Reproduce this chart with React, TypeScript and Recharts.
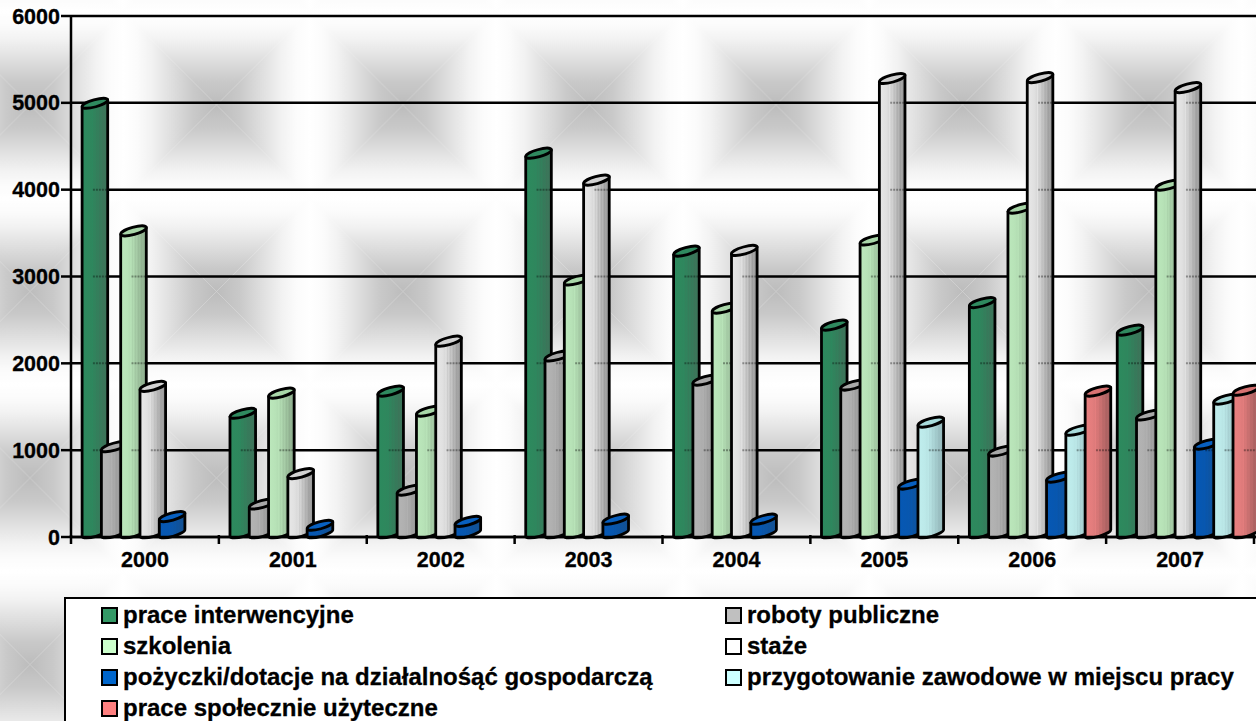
import { BarChart, Bar, XAxis, YAxis, CartesianGrid, Legend } from 'recharts';

const years = ['2000', '2001', '2002', '2003', '2004', '2005', '2006', '2007'];
const yTicks = [0, 1000, 2000, 3000, 4000, 5000, 6000];

const seriesNames = [
	'prace interwencyjne',
	'roboty publiczne',
	'szkolenia',
	'staże',
	'pożyczki/dotacje na działalnośąć gospodarczą',
	'przygotowanie zawodowe w miejscu pracy',
	'prace społecznie użyteczne',
];

const praceInterwencyjne = [4995, 1425, 1680, 4420, 3292, 2440, 2700, 2382];
const robotyPubliczne = [1040, 380, 540, 2085, 1807, 1750, 990, 1405];
const szkolenia = [3525, 1657, 1450, 2960, 2636, 3420, 3787, 4052];
const staze = [1735, 730, 2255, 4110, 3300, 5280, 5290, 5175];
const pozyczki = [235, 135, 180, 205, 205, 610, 690, 1070];
const przygotowanie = [null, null, null, null, null, 1323, 1230, 1588];
const praceSpoleczne = [null, null, null, null, null, null, 1680, 1690];

const seriesValues = [praceInterwencyjne, robotyPubliczne, szkolenia, staze, pozyczki, przygotowanie, praceSpoleczne];

const chartData = years.map((year, i) => {
	const row: Record<string, string | number | null> = { year };
	seriesNames.forEach((name, s) => {
		row[name] = seriesValues[s][i];
	});
	return row;
});

const legendColors = ['#339966', '#c0c0c0', '#ccffcc', '#ffffff', '#0066cc', '#ccffff', '#ff8080'];
const bodyLeft = ['#2c8a5e', '#b4b4b4', '#bce8bc', '#e8e8e8', '#0658b4', '#c0eeee', '#ea8080'];
const bodyRight = ['#3f6f58', '#868686', '#86a486', '#8e8e8e', '#144f8e', '#8eb0b4', '#9c5a5a'];
const topColors = ['#2f8a5f', '#a8a8a8', '#a8d6a8', '#d2d2d2', '#0860c0', '#a8dcdc', '#d87272'];

const font = '"Liberation Sans", Arial, sans-serif';
const stripeOffsets = [0, 0.28, 0.36, 0.4, 0.46, 0.5, 0.58, 0.62, 0.7, 0.74, 0.82, 0.86, 1];

function mix(a: string, b: string, t: number) {
	const ch = (h: string, n: number) => parseInt(h.slice(n, n + 2), 16);
	const out = [1, 3, 5].map((n) => Math.round(ch(a, n) + (ch(b, n) - ch(a, n)) * t));
	return `rgb(${out.join(',')})`;
}

function Cylinder(props: any) {
	const { x, y, height, series, value } = props;
	if (value == null || !height) return null;
	const left = x + 4.6;
	const halfW = 12.8;
	const tilt = 3.6;
	const rx = 13.2;
	const ry = 3.6;
	const cx = left + halfW;
	const base = y + height;
	const bottomY = base - tilt - 0.5;
	const body = `M${cx - halfW},${y + tilt} L${cx - halfW},${bottomY + tilt} A${rx},${ry} -15.7 0 0 ${cx + halfW},${bottomY - tilt} L${cx + halfW},${y - tilt} Z`;
	const perThousand = (height / value) * 1000;
	const marks = yTicks.filter((t) => t > 0 && t < value - 60);
	return (
		<g>
			<path d={body} fill={`url(#cyl${series})`} stroke="#000" strokeWidth={2.8} strokeLinejoin="round" />
			{marks.map((t) => (
				<line
					key={t}
					x1={cx - 2}
					x2={cx + halfW - 1}
					y1={base - (t / 1000) * perThousand}
					y2={base - (t / 1000) * perThousand}
					stroke="#000"
					strokeOpacity={0.35}
					strokeWidth={2}
					strokeDasharray="2 1"
				/>
			))}
			<ellipse
				cx={cx}
				cy={y}
				rx={rx}
				ry={ry}
				transform={`rotate(-15.7 ${cx} ${y})`}
				fill={topColors[series]}
				stroke="#000"
				strokeWidth={2.8}
			/>
		</g>
	);
}

function YearTick(props: any) {
	const { x, y, payload, index } = props;
	const half = payload?.offset ?? 73.94;
	const axisY = y - 2;
	return (
		<g>
			<line x1={x - half} x2={x - half} y1={axisY} y2={axisY + 9} stroke="#000" strokeWidth={2.5} />
			{index === years.length - 1 && (
				<line x1={x + half} x2={x + half} y1={axisY} y2={axisY + 9} stroke="#000" strokeWidth={2.5} />
			)}
			<text
				x={x}
				y={axisY + 32}
				textAnchor="middle"
				fontFamily={font}
				fontWeight="bold"
				fontSize={21.5}
				fill="#000"
				stroke="#000"
				strokeWidth={0.3}
			>
				{payload.value}
			</text>
		</g>
	);
}

function LegendBox({ payload }: any) {
	return (
		<div
			style={{
				position: 'relative',
				width: 1300,
				height: 130,
				boxSizing: 'border-box',
				background: '#fff',
				border: '2.5px solid #000',
				fontFamily: font,
				fontWeight: 'bold',
				fontSize: 24,
				color: '#000',
				WebkitTextStroke: '0.3px #000',
			}}
		>
			{(payload ?? []).map((item: any, i: number) => (
				<div
					key={item.value}
					style={{
						position: 'absolute',
						left: i % 2 === 0 ? 35 : 659,
						top: 6 + Math.floor(i / 2) * 31,
						height: 20,
						display: 'flex',
						alignItems: 'center',
						whiteSpace: 'nowrap',
					}}
				>
					<span
						style={{
							width: 17,
							height: 17,
							boxSizing: 'border-box',
							border: '2.5px solid #000',
							background: item.color,
							marginRight: 5,
							flex: 'none',
						}}
					/>
					{item.value}
				</div>
			))}
		</div>
	);
}

function Backdrop() {
	const tile = 186.5;
	const c = tile / 2;
	const stops = [
		[0, '#bcbcbc'],
		[0.25, '#c9c9c9'],
		[0.5, '#e0e0e0'],
		[0.7, '#f2f2f2'],
		[0.85, '#fbfbfb'],
		[1, '#ffffff'],
	];
	const grad = (id: string, x2: number, y2: number) => (
		<linearGradient id={id} gradientUnits="userSpaceOnUse" x1={c} y1={c} x2={x2} y2={y2}>
			{stops.map(([o, col]) => (
				<stop key={o} offset={o} stopColor={col as string} />
			))}
		</linearGradient>
	);
	return (
		<svg width={1256} height={721} style={{ position: 'absolute', left: 0, top: 0 }}>
			<defs>
				{grad('bgL', 0, c)}
				{grad('bgR', tile, c)}
				{grad('bgT', c, 0)}
				{grad('bgB', c, tile)}
				<pattern id="bgTile" patternUnits="userSpaceOnUse" x={30 - c} y={105 - c} width={tile} height={tile}>
					<path d={`M${c},${c} L0,0 L0,${tile} Z`} fill="url(#bgL)" />
					<path d={`M${c},${c} L${tile},0 L${tile},${tile} Z`} fill="url(#bgR)" />
					<path d={`M${c},${c} L0,0 L${tile},0 Z`} fill="url(#bgT)" />
					<path d={`M${c},${c} L0,${tile} L${tile},${tile} Z`} fill="url(#bgB)" />
				</pattern>
			</defs>
			<rect width={1256} height={721} fill="url(#bgTile)" />
		</svg>
	);
}

export default function App() {
	return (
		<div style={{ position: 'absolute', left: 0, top: 0, width: 1256, height: 721, overflow: 'hidden', background: '#fff' }}>
			<Backdrop />
			<div style={{ position: 'absolute', left: 0, top: 0 }}>
				<BarChart
					width={1262}
					height={721}
					data={chartData}
					margin={{ top: 16, right: 0, bottom: 144, left: 0 }}
					barCategoryGap={6.5}
					barGap={0.3}
				>
					<defs>
						{bodyLeft.map((col, s) => (
							<linearGradient key={s} id={`cyl${s}`} x1="0" y1="0" x2="1" y2="0">
								{stripeOffsets.map((o, k) => {
									const t = o < 0.3 ? o * 0.3 : (o - 0.3) / 0.7 + (k % 2 === 0 ? 0.08 : -0.08);
									return <stop key={k} offset={o} stopColor={mix(col, bodyRight[s], Math.max(0, Math.min(1, t)))} />;
								})}
							</linearGradient>
						))}
					</defs>
					<CartesianGrid horizontal vertical={false} stroke="#000" strokeWidth={2.5} />
					<XAxis
						dataKey="year"
						height={40}
						interval={0}
						padding={{ left: 0, right: 8 }}
						axisLine={{ stroke: '#000', strokeWidth: 2.5 }}
						tickLine={false}
						tick={<YearTick />}
						tickMargin={0}
						tickSize={0}
					/>
					<YAxis
						width={71}
						domain={[0, 6000]}
						ticks={yTicks}
						interval={0}
						axisLine={{ stroke: '#000', strokeWidth: 2.5 }}
						tickLine={{ stroke: '#000', strokeWidth: 2.5 }}
						tickSize={10}
						tickMargin={1}
						tick={{ fill: '#000', stroke: '#000', strokeWidth: 0.3, fontFamily: font, fontWeight: 'bold', fontSize: 21.5 }}
					/>
					<Legend
						layout="vertical"
						align="center"
						verticalAlign="middle"
						itemSorter={null}
						content={<LegendBox />}
						wrapperStyle={{ position: 'absolute', left: 64, top: 597, width: 1300, height: 130 }}
					/>
					{seriesNames.map((name, s) => (
						<Bar
							key={name}
							dataKey={name}
							name={name}
							fill={legendColors[s]}
							isAnimationActive={false}
							shape={(p: any) => <Cylinder {...p} series={s} />}
						/>
					))}
				</BarChart>
			</div>
		</div>
	);
}
